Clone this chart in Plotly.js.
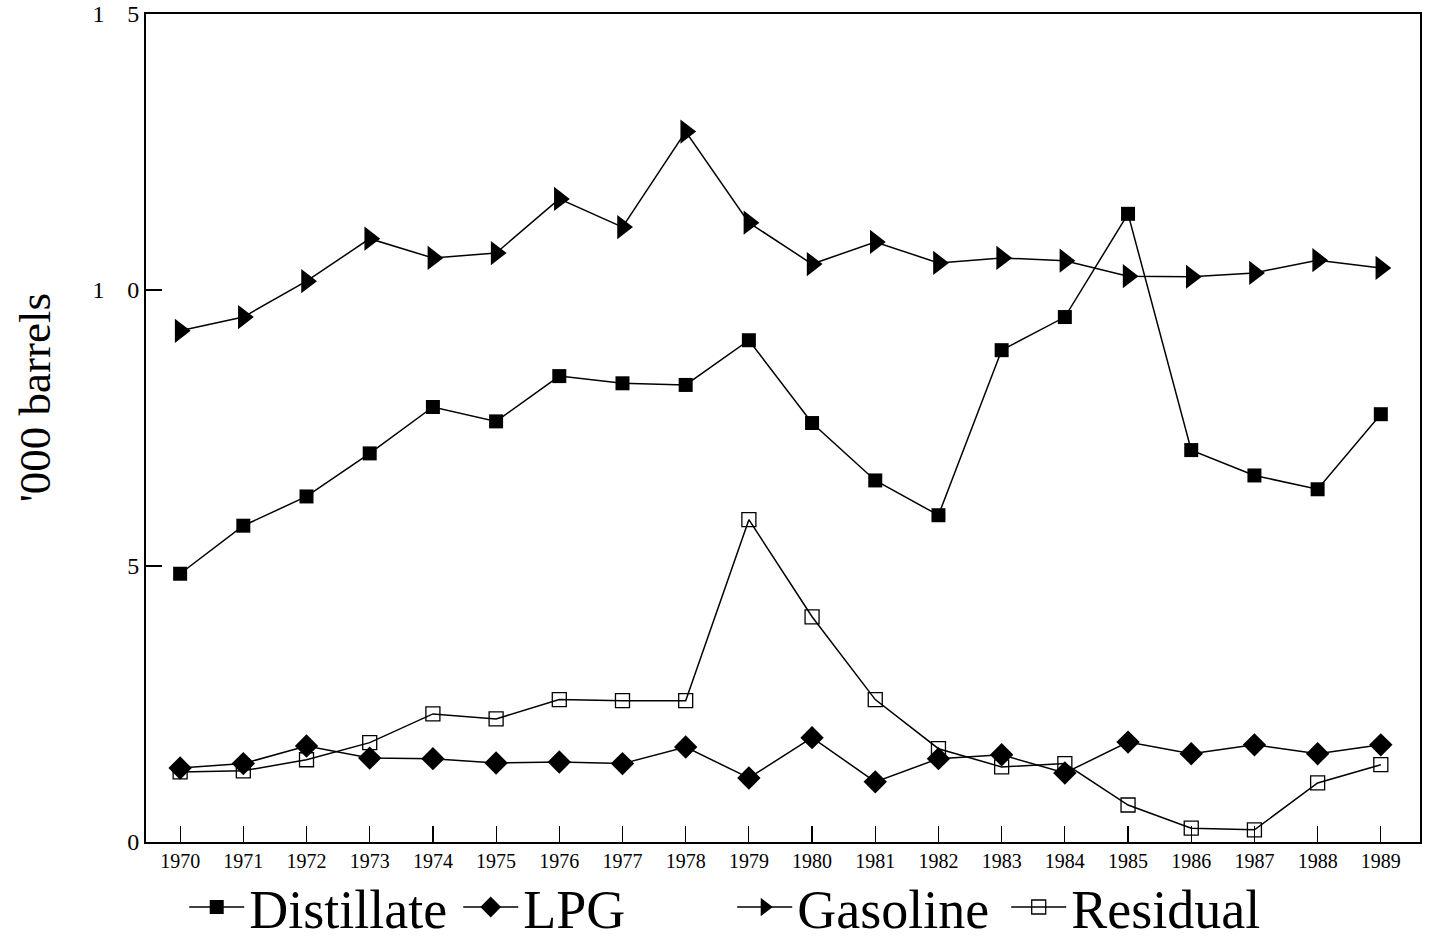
<!DOCTYPE html>
<html>
<head>
<meta charset="utf-8">
<script src="https://cdn.plot.ly/plotly-3.0.1.min.js"></script>
<style>html,body{margin:0;padding:0;background:#fff;}#chart{width:1432px;height:943px;}</style>
</head>
<body>
<div id="chart"></div>
<script>
var years = [1970,1971,1972,1973,1974,1975,1976,1977,1978,1979,1980,1981,1982,1983,1984,1985,1986,1987,1988,1989];
var distillate = [4.86,5.73,6.26,7.04,7.88,7.62,8.44,8.31,8.28,9.09,7.59,6.55,5.92,8.91,9.51,11.38,7.10,6.64,6.39,7.75];
var lpg = [1.34,1.42,1.74,1.52,1.51,1.43,1.45,1.42,1.72,1.16,1.89,1.09,1.51,1.58,1.25,1.81,1.60,1.76,1.60,1.76];
var gasoline = [9.26,9.51,10.16,10.93,10.58,10.67,11.65,11.14,12.87,11.22,10.47,10.87,10.49,10.58,10.53,10.25,10.24,10.31,10.54,10.40];
var residual = [1.27,1.29,1.49,1.80,2.32,2.23,2.58,2.56,2.56,5.84,4.08,2.58,1.69,1.36,1.42,0.67,0.25,0.22,1.07,1.40];
var yTickVals = [0,5,10,15];
var yTickText = ["0","5","1\u00A0\u00A0\u00A0\u20090","1\u00A0\u00A0\u00A0\u20095"];
var seriesNames = ["Distillate","LPG","Gasoline","Residual"];
var yTitle = "'000 barrels";

var line = {color:"#000", width:1.5};
var traces = [
  {x:years, y:distillate, name:seriesNames[0], mode:"lines+markers", line:line,
   marker:{symbol:"square", size:14, color:"#000"}},
  {x:years, y:lpg, name:seriesNames[1], mode:"lines+markers", line:line,
   marker:{symbol:"diamond", size:18, color:"#000"}},
  {x:years, y:gasoline, name:seriesNames[2], mode:"lines+markers", line:line,
   marker:{symbol:"triangle-right", size:21, color:"#000"}},
  {x:years, y:residual, name:seriesNames[3], mode:"lines+markers", line:line,
   marker:{symbol:"square-open", size:14, color:"#000", line:{width:1.3, color:"#000"}}}
];

var layout = {
  width:1432, height:943,
  margin:{l:146, r:12, t:14, b:101, autoexpand:false},
  paper_bgcolor:"#fff", plot_bgcolor:"#fff",
  font:{family:"Liberation Serif, Times New Roman, serif", color:"#000"},
  showlegend:true,
  legend:{orientation:"h", x:0.030, xanchor:"left", y:-0.079, yanchor:"middle",
    font:{size:54, family:"Liberation Serif, serif", color:"#000"},
    entrywidth:204, entrywidthmode:"pixels", itemwidth:55, tracegroupgap:0,
    bgcolor:"rgba(0,0,0,0)"},
  xaxis:{range:[1969.46,1989.62], tickmode:"array", tickvals:years, ticktext:years.map(String),
    ticks:"inside", ticklen:16, tickwidth:1.2, tickcolor:"#000",
    showline:true, linecolor:"#000", linewidth:2, mirror:true,
    showgrid:false, zeroline:false, tickfont:{size:20, family:"Liberation Serif, serif"}},
  yaxis:{range:[0,15], tickmode:"array", tickvals:yTickVals, ticktext:yTickText,
    ticks:"inside", ticklen:16, tickwidth:1.2, tickcolor:"#000",
    showline:true, linecolor:"#000", linewidth:2, mirror:true,
    showgrid:false, zeroline:false,
    tickfont:{size:24, family:"Liberation Serif, serif"}},
  annotations:[{text:yTitle, xref:"paper", yref:"paper", x:-0.087, y:0.536,
    xanchor:"center", yanchor:"middle", textangle:-90, showarrow:false,
    font:{size:45, family:"Liberation Serif, serif", color:"#000"}}]
};
Plotly.newPlot("chart", traces, layout, {displayModeBar:false, staticPlot:true});
</script>
</body>
</html>
